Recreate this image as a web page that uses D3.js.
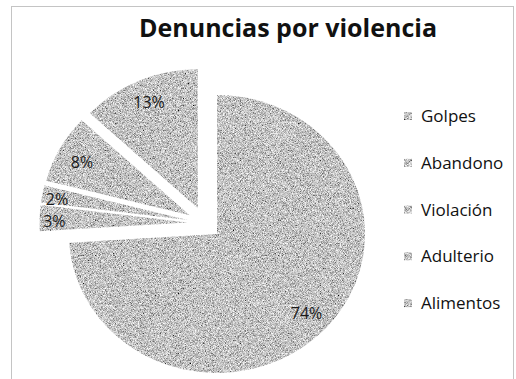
<!DOCTYPE html>
<html>
<head>
<meta charset="utf-8">
<script src="https://cdn.jsdelivr.net/npm/d3@7"></script>
<style>
  html, body { margin: 0; padding: 0; background: #fff; }
  svg { display: block; }
</style>
</head>
<body>
<div id="chart"></div>
<script>
// data
var categories = ["Golpes", "Abandono", "Violación", "Adulterio", "Alimentos"];
var values = [74, 3, 2, 8, 13];
var pctLabels = ["74%", "3%", "2%", "8%", "13%"];
var title = "Denuncias por violencia";

(function() {
  var width = 516, height = 379;
  var cx = 204.6, cy = 223, r = 139, sx = 1.065, explode = 16;
  var font = "'Open Sans', 'DejaVu Sans', sans-serif";

  var svg = d3.select("#chart").append("svg")
    .attr("width", width).attr("height", height);

  // scanned-paper grain for the grey fills
  var defs = svg.append("defs");
  var f = defs.append("filter").attr("id", "grain")
    .attr("x", 0).attr("y", 0).attr("width", 1).attr("height", 1);
  f.append("feTurbulence").attr("type", "fractalNoise")
    .attr("baseFrequency", 1.4).attr("numOctaves", 1).attr("result", "n");
  f.append("feColorMatrix").attr("in", "n").attr("type", "matrix")
    .attr("values", "1.7 0 0 0 -0.3  1.7 0 0 0 -0.3  1.7 0 0 0 -0.3  0 0 0 0 1")
    .attr("result", "g");
  f.append("feComposite").attr("in", "g").attr("in2", "SourceGraphic").attr("operator", "in");

  // frame
  svg.append("rect")
    .attr("x", 11.5).attr("y", 6.5).attr("width", 502).attr("height", 390)
    .attr("fill", "none").attr("stroke", "#888").attr("stroke-width", 1)
    .attr("stroke-dasharray", "1,1");

  svg.append("text")
    .attr("x", 288).attr("y", 37)
    .attr("text-anchor", "middle")
    .style("font-family", font).style("font-weight", 700).style("font-size", "25px")
    .style("fill", "#111")
    .text(title);

  var pie = d3.pie().sort(null).value(function(d) { return d; });
  var arcs = pie(values);
  var arc = d3.arc().innerRadius(0).outerRadius(r);

  var offset = function(d) {
    var mid = (d.startAngle + d.endAngle) / 2;
    return [explode * Math.sin(mid), -explode * Math.cos(mid)];
  };

  svg.append("g").attr("filter", "url(#grain)")
    .selectAll("path").data(arcs).enter().append("path")
    .attr("transform", function(d) {
      var o = offset(d);
      return "translate(" + (cx + o[0] * sx) + "," + (cy + o[1]) + ") scale(" + sx + ",1)";
    })
    .attr("d", arc)
    .attr("fill", "#999");

  var labelPos = function(d) {
    var o = offset(d), mid = (d.startAngle + d.endAngle) / 2;
    var lr = d.value < 5 ? 0.9 * r : 0.83 * r;
    return [cx + (o[0] + lr * Math.sin(mid)) * sx, cy + o[1] - lr * Math.cos(mid) + (d.value < 10 ? 3 : 0)];
  };

  svg.append("g").selectAll("text").data(arcs).enter().append("text")
    .attr("x", function(d) { return labelPos(d)[0]; })
    .attr("y", function(d) { return labelPos(d)[1]; })
    .attr("text-anchor", "middle").attr("dy", "0.35em")
    .style("font-family", font).style("font-size", "16px").style("fill", "#1a1a1a")
    .text(function(d, i) { return pctLabels[i]; });

  var legend = svg.append("g").selectAll("g").data(categories).enter().append("g")
    .attr("transform", function(d, i) { return "translate(404," + (116 + i * 46.8) + ")"; });
  legend.append("rect")
    .attr("x", 0).attr("y", -4).attr("width", 8).attr("height", 8)
    .attr("fill", "#999").attr("filter", "url(#grain)");
  legend.append("text")
    .attr("x", 17).attr("dy", "0.35em")
    .style("font-family", font).style("font-size", "17px").style("fill", "#111")
    .text(function(d) { return d; });
}).call(this);
</script>
</body>
</html>
